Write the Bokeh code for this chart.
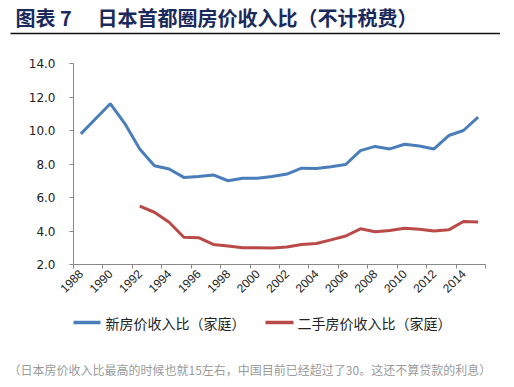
import math
from bokeh.plotting import figure
from bokeh.layouts import column
from bokeh.models import ColumnDataSource, FixedTicker, PrintfTickFormatter, Range1d
from bokeh.embed import file_html
from bokeh.resources import INLINE
from bokeh.core.properties import value

# ---- data ----
years = list(range(1988, 2016))
new_house = [9.8, 10.7, 11.6, 10.4, 8.9, 7.9, 7.7, 7.2, 7.25, 7.35, 7.0, 7.15, 7.15, 7.25,
             7.4, 7.75, 7.73, 7.83, 7.97, 8.8, 9.05, 8.9, 9.18, 9.08, 8.9, 9.7, 10.0, 10.8]
used_years = list(range(1992, 2016))
used_house = [5.48, 5.12, 4.52, 3.63, 3.6, 3.2, 3.1, 3.0, 3.0, 2.98, 3.05, 3.2, 3.25, 3.47,
              3.7, 4.13, 3.95, 4.03, 4.17, 4.1, 4.0, 4.07, 4.57, 4.53]
x_tick_years = list(range(1988, 2016, 2))
y_ticks = [2, 4, 6, 8, 10, 12, 14]

title_num = "图表 7"
title_text = "日本首都圈房价收入比（不计税费）"
legend_new = "新房价收入比（家庭）"
legend_used = "二手房价收入比（家庭）"
caption = "（日本房价收入比最高的时候也就15左右，中国目前已经超过了30。这还不算贷款的利息）"

BLUE = "#4A7EBB"
RED = "#B94A48"
CJK = "Noto Sans CJK SC"

W = 500


def blank(height):
    f = figure(width=W, height=height, output_backend="svg", toolbar_location=None,
               x_range=Range1d(0, W), y_range=Range1d(0, height),
               x_axis_type=None, y_axis_type=None, frame_align=False,
               min_border=0, min_border_left=0, min_border_right=0,
               min_border_top=0, min_border_bottom=0)
    f.grid.visible = False
    f.outline_line_color = None
    return f


# ---- header: title + rule ----
HH = 40
head = blank(HH)
head.text(x=[15, 97], y=[HH - 17, HH - 17], text=[title_num, title_text],
          text_font=value(CJK), text_font_style="bold", text_font_size="20px",
          text_color="#1B2A5C", text_baseline="middle", text_align="left")
head.line(x=[10, 500], y=[HH - 33, HH - 33], line_color="#111111", line_width=1.5)

# ---- chart ----
p = figure(width=W, height=260, output_backend="svg", toolbar_location=None,
           x_range=Range1d(1987.5, 2015.5), y_range=Range1d(2, 14), frame_align=False,
           min_border_left=73, min_border_right=15, min_border_top=23, min_border_bottom=36)
p.outline_line_color = None
p.grid.visible = False

src_new = ColumnDataSource(dict(x=years, y=new_house))
src_used = ColumnDataSource(dict(x=used_years, y=used_house))
p.line("x", "y", source=src_new, line_color=BLUE, line_width=3)
p.line("x", "y", source=src_used, line_color=RED, line_width=3)

xa = p.xaxis[0]
xa.ticker = FixedTicker(ticks=x_tick_years, minor_ticks=[y - 0.5 for y in x_tick_years] + [2015.5])
xa.major_tick_out = 0
xa.major_tick_in = 0
xa.minor_tick_out = 4
xa.minor_tick_in = 0
xa.minor_tick_line_color = "#888888"
xa.axis_line_color = "#888888"
xa.major_label_orientation = math.pi / 4
xa.major_label_text_font = "Liberation Sans"
xa.major_label_text_font_size = "12px"
xa.major_label_text_color = "#222222"
xa.major_label_standoff = 3

ya = p.yaxis[0]
ya.ticker = FixedTicker(ticks=y_ticks)
ya.formatter = PrintfTickFormatter(format="%.1f")
ya.major_tick_out = 4
ya.major_tick_in = 0
ya.minor_tick_out = 0
ya.minor_tick_in = 0
ya.major_tick_line_color = "#888888"
ya.axis_line_color = "#888888"
ya.major_label_text_font = "DejaVu Sans"
ya.major_label_text_font_size = "12px"
ya.major_label_text_color = "#222222"
ya.major_label_standoff = 14

# ---- footer: legend + caption ----
FH = 87
foot = blank(FH)
ly = FH - 22
foot.line(x=[73, 100], y=[ly, ly], line_color=BLUE, line_width=3.5)
foot.line(x=[265, 293], y=[ly, ly], line_color=RED, line_width=3.5)
foot.text(x=[105, 297], y=[ly, ly], text=[legend_new, legend_used],
          text_font=value(CJK), text_font_size="14px", text_color="#222222",
          text_baseline="middle", text_align="left")
foot.text(x=[8], y=[FH - 69], text=[caption],
          text_font=value(CJK), text_font_size="12px", text_color="#9A9A9A",
          text_baseline="middle", text_align="left")

layout = column(head, p, foot, spacing=0)
open("out.html", "w").write(file_html(layout, INLINE))
